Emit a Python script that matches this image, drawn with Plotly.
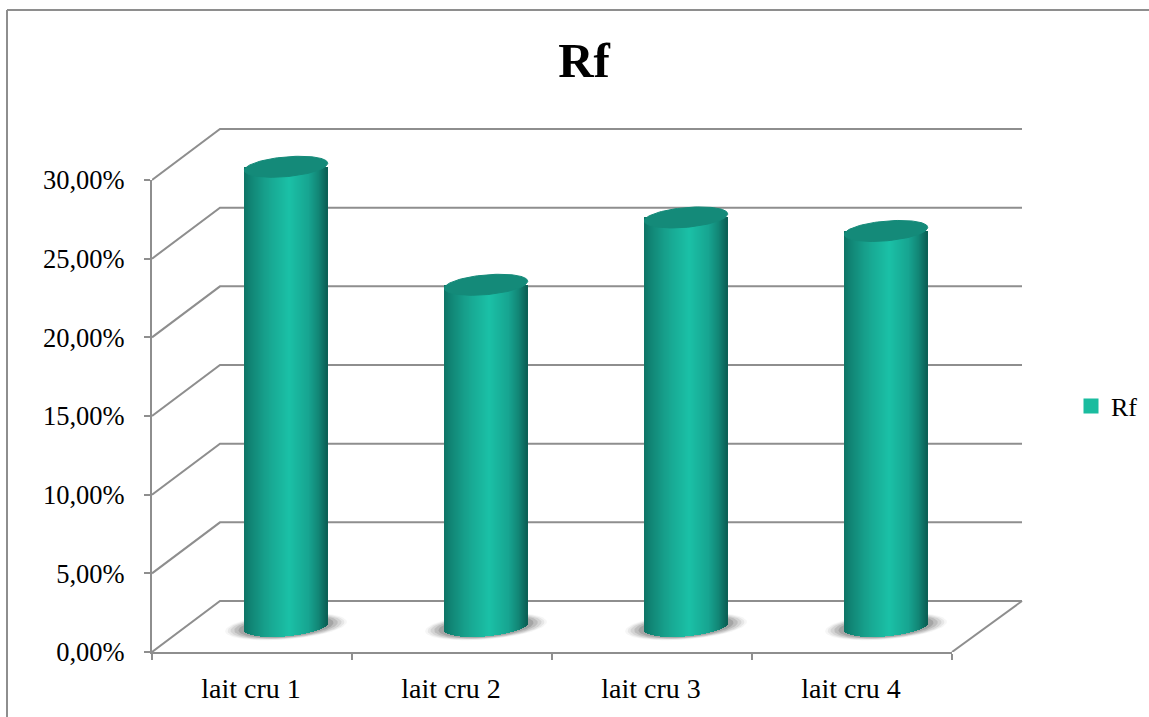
import numpy as np
import plotly.graph_objects as go

# ---------- data ----------
categories = ["lait cru 1", "lait cru 2", "lait cru 3", "lait cru 4"]
rf_values = [0.2922, 0.2172, 0.2600, 0.2514]
series_name = "Rf"
y_ticks = [0, 0.05, 0.10, 0.15, 0.20, 0.25, 0.30]
chart_title = "Rf"

# ---------- styling / geometry ----------
W, H = 1149, 717
FRONT = dict(l=152, r=952, t=180, b=652)
CANVAS = dict(r=1026, t=127)
DEPTH_PX = (68, 51)
BACK_EXTRA_PX = 2
GRAY = "#8E8E8E"
FONT = "Liberation Serif"
N_STRIP = 84
RX_PX, RY_PX = 41.7, 10.5
SLOPE = DEPTH_PX[0] / DEPTH_PX[1]

PX_X = (FRONT["r"] - FRONT["l"]) / len(categories)      # pixels per category
PX_Y = (FRONT["b"] - FRONT["t"]) / max(y_ticks)         # pixels per unit of value
DX, DY = DEPTH_PX[0] / PX_X, DEPTH_PX[1] / PX_Y         # depth in axis units
BACK_EXTRA = BACK_EXTRA_PX / PX_X

VX = RY_PX * SLOPE
UX = np.sqrt(RX_PX ** 2 - VX ** 2)

STOPS = [(0.00, "#0E7466"), (0.08, "#118575"), (0.25, "#17A08C"), (0.55, "#1BC1A7"),
         (0.78, "#17A591"), (0.90, "#128676"), (1.00, "#0B5F54")]


def gradient(f):
    fs = [s[0] for s in STOPS]
    rgb = [np.interp(f, fs, [int(s[1][i:i + 2], 16) for s in STOPS]) for i in (1, 3, 5)]
    return "rgb(%d,%d,%d)" % tuple(int(c) for c in rgb)


def lower_sine(px):
    """sin(t) of the lower branch of the tilted ellipse at horizontal offset px."""
    a = RX_PX ** 2
    b = -2 * px * VX
    c = px ** 2 - UX ** 2
    return (-b - np.sqrt(max(b ** 2 - 4 * a * c, 0))) / (2 * a)


def ellipse(cx, cv, sx=1.0, sy=1.0):
    t = np.linspace(0, 2 * np.pi, 90)
    return (cx + sx * (UX * np.cos(t) + VX * np.sin(t)) / PX_X,
            cv + sy * RY_PX * np.sin(t) / PX_Y)


fig = go.Figure()
line_style = dict(color=GRAY, width=2)
x_left, x_right = -0.5, len(categories) - 0.5

# back wall and floor (canvas below the cylinders)
for v in y_ticks:
    fig.add_trace(go.Scatter(x=[x_left, x_left + DX, x_right + DX + BACK_EXTRA], y=[v, v + DY, v + DY], mode="lines",
                             xaxis="x2", yaxis="y2", line=line_style, showlegend=False, hoverinfo="skip"))
fig.add_trace(go.Scatter(x=[x_right, x_right + DX + BACK_EXTRA], y=[0, DY], mode="lines", xaxis="x2", yaxis="y2",
                         line=line_style, showlegend=False, hoverinfo="skip"))

# soft shadows
for i in range(len(categories)):
    for sx, sy, alpha in [(1.46, 1.32, 0.05), (1.40, 1.26, 0.08), (1.33, 1.20, 0.12), (1.24, 1.14, 0.16), (1.14, 1.08, 0.2)]:
        ex, ey = ellipse(i + DX / 2, DY / 2, sx, sy)
        fig.add_trace(go.Scatter(x=ex, y=ey, mode="lines", fill="toself", xaxis="x2", yaxis="y2",
                                 fillcolor="rgba(70,70,70,%g)" % alpha, line=dict(width=0),
                                 showlegend=False, hoverinfo="skip"))

# cylinders: narrow shaded strips plus the top ellipse
offsets = (np.arange(N_STRIP) + 0.5) / N_STRIP * 2 - 1
for i, val in enumerate(rf_values):
    cx = i + DX / 2
    xs = cx + offsets * RX_PX / PX_X
    base = np.array([DY / 2 + lower_sine(o * RX_PX) * RY_PX / PX_Y for o in offsets])
    top = val + DY / 2
    fig.add_trace(go.Bar(x=xs, y=top - base, base=base, width=2 * RX_PX / N_STRIP / PX_X * 1.25,
                         xaxis="x3", yaxis="y3",
                         marker=dict(color=[gradient((o + 1) / 2) for o in offsets], line=dict(width=0)),
                         showlegend=False, hoverinfo="skip"))
    ex, ey = ellipse(cx, top)
    fig.add_trace(go.Scatter(x=ex, y=ey, mode="lines", fill="toself", xaxis="x3", yaxis="y3",
                             fillcolor="#148A79", line=dict(color="#148A79", width=1),
                             showlegend=False, hoverinfo="skip"))

# legend entry on the visible axes
fig.add_trace(go.Scatter(x=[None], y=[None], mode="markers", name=series_name, xaxis="x", yaxis="y",
                         marker=dict(symbol="square", size=15, color="#1ABC9F")))

canvas_x = dict(visible=False, fixedrange=True,
                range=[x_left, x_right + (CANVAS["r"] - FRONT["r"]) / PX_X],
                domain=[FRONT["l"] / W, CANVAS["r"] / W])
canvas_y = dict(visible=False, fixedrange=True,
                range=[0, max(y_ticks) + (FRONT["t"] - CANVAS["t"]) / PX_Y],
                domain=[1 - FRONT["b"] / H, 1 - CANVAS["t"] / H])

fig.update_layout(
    width=W, height=H, autosize=False,
    margin=dict(l=0, r=0, t=0, b=0, autoexpand=False),
    paper_bgcolor="white", plot_bgcolor="rgba(0,0,0,0)",
    separators=", ",
    barmode="overlay", bargap=0,
    font=dict(family=FONT, color="#000000", size=26),
    title=dict(text="<b>%s</b>" % chart_title, x=584 / W, xanchor="center", y=1 - 60 / H, yanchor="middle",
               font=dict(family=FONT, size=49, color="#000000")),
    # visible front axes
    xaxis=dict(range=[x_left, x_right], fixedrange=True, zeroline=False,
               domain=[FRONT["l"] / W, FRONT["r"] / W], anchor="y",
               showgrid=False, showline=True, linecolor=GRAY, linewidth=2,
               tickmode="array", tickvals=list(range(len(categories))), ticktext=categories,
               ticks="", ticklabelstandoff=10, ticklabelshift=-1,
               tickfont=dict(family=FONT, size=28, color="#000000"),
               minor=dict(tickmode="array", tickvals=[i - 0.5 for i in range(len(categories) + 1)],
                          ticks="outside", ticklen=6, tickwidth=2, tickcolor=GRAY, showgrid=False)),
    yaxis=dict(range=[0, max(y_ticks)], fixedrange=True, zeroline=False,
               domain=[1 - FRONT["b"] / H, 1 - FRONT["t"] / H], anchor="x",
               showgrid=False, showline=True, linecolor=GRAY, linewidth=2,
               tickmode="array", tickvals=y_ticks, tickformat=".2%",
               ticks="outside", ticklen=6, tickwidth=2, tickcolor=GRAY, ticklabelstandoff=14,
               tickfont=dict(family=FONT, size=26.5, color="#000000")),
    # canvases sharing the same scales
    xaxis2=dict(canvas_x, anchor="y2"), yaxis2=dict(canvas_y, anchor="x2"),
    xaxis3=dict(canvas_x, anchor="y3"), yaxis3=dict(canvas_y, anchor="x3"),
    legend=dict(x=1071 / W, y=1 - 406 / H, xanchor="left", yanchor="middle", bgcolor="rgba(0,0,0,0)",
                font=dict(family=FONT, size=26), itemwidth=30),
    shapes=[
        dict(type="line", xref="paper", yref="paper", x0=7 / W, x1=7 / W, y0=0, y1=1 - 10 / H,
             line=dict(color=GRAY, width=2)),
        dict(type="line", xref="paper", yref="paper", x0=7 / W, x1=1, y0=1 - 10 / H, y1=1 - 10 / H,
             line=dict(color=GRAY, width=2)),
    ],
)

fig.write_html("out.html", config=dict(displayModeBar=False),
               post_script="document.body.style.margin='0';document.body.style.overflow='hidden';")
